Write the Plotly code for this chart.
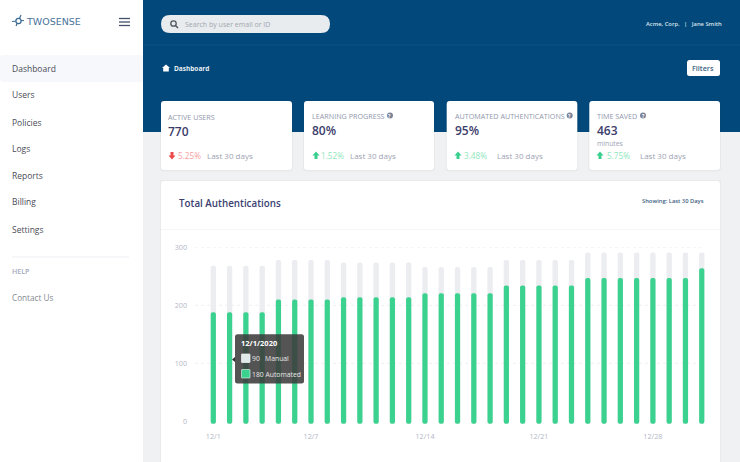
"""Two Sense dashboard mock: Total Authentications bars plus the page around them"""
import plotly.graph_objects as go

W, H = 740, 462

# Chart data
days = [f"12/{d}" for d in range(1, 32)]
tick_days = ["12/1", "12/7", "12/14", "12/21", "12/28"]
y_ticks = [0, 100, 200, 300]
grid_values = [100, 200, 300]
total = [268] * 4 + [278] * 4 + [274] * 5 + [266] * 5 + [278] * 5 + [291] * 8
automated = [188] * 4 + [210] * 4 + [214] * 5 + [221] * 5 + [234] * 5 + [247] * 7 + [264]
bar_base = -4

# Page text
nav_items = ["Dashboard", "Users", "Policies", "Logs", "Reports", "Billing", "Settings"]
nav_y = [68.5, 95, 122, 148.5, 175, 202, 229]

BLUE = "#02487a"
GREEN = "#3bd18f"
GREY_BAR = "#ecedf1"
NAVY = "#3b3d6b"
MUTED = "#9298ad"
FONT = "Open Sans"


def px(x):
    return x / W


def py(y):
    return 1 - y / H


def rrect_path(x0, y0, x1, y1, r):
    # rounded rectangle in paper coords, input in pixels
    pts = [
        f"M{px(x0 + r)},{py(y0)}", f"L{px(x1 - r)},{py(y0)}", f"Q{px(x1)},{py(y0)} {px(x1)},{py(y0 + r)}",
        f"L{px(x1)},{py(y1 - r)}", f"Q{px(x1)},{py(y1)} {px(x1 - r)},{py(y1)}",
        f"L{px(x0 + r)},{py(y1)}", f"Q{px(x0)},{py(y1)} {px(x0)},{py(y1 - r)}",
        f"L{px(x0)},{py(y0 + r)}", f"Q{px(x0)},{py(y0)} {px(x0 + r)},{py(y0)}", "Z",
    ]
    return " ".join(pts)


def poly_path(points):
    return "M" + " L".join(f"{px(x)},{py(y)}" for x, y in points) + " Z"


shapes = []
annotations = []


def box(x0, y0, x1, y1, color, r=0, layer="below", line=None, line_w=0):
    shapes.append(dict(type="path", path=rrect_path(x0, y0, x1, y1, r), xref="paper", yref="paper",
                       fillcolor=color, line=dict(color=line or color, width=line_w), layer=layer))


def rule(x0, y0, x1, y1, color, width=1, layer="below"):
    shapes.append(dict(type="line", x0=px(x0), y0=py(y0), x1=px(x1), y1=py(y1), xref="paper", yref="paper",
                       line=dict(color=color, width=width), layer=layer))


def poly(points, color, layer="below"):
    shapes.append(dict(type="path", path=poly_path(points), xref="paper", yref="paper",
                       fillcolor=color, line=dict(width=0), layer=layer))


def dot(cx, cy, r, fill, line=None, width=0, layer="below"):
    shapes.append(dict(type="circle", x0=px(cx - r), x1=px(cx + r), y0=py(cy + r), y1=py(cy - r),
                       xref="paper", yref="paper", fillcolor=fill,
                       line=dict(color=line or fill, width=width), layer=layer))


def label(x, y, text, size, color, weight=400, anchor="left", family=FONT):
    # annotation boxes sit about a pixel inside the anchor
    nudge = {"left": -1.2, "center": 0, "right": 1}[anchor]
    annotations.append(dict(x=px(x + nudge), y=py(y), xref="paper", yref="paper", text=text, showarrow=False,
                            xanchor=anchor, yanchor="middle", borderpad=0,
                            font=dict(family=family, size=size, color=color, weight=weight)))


# Sidebar and header
box(0, 0, 143, H, "#ffffff")
box(143, 0, W, 132, BLUE)
rule(143, 45, W, 45, "#0b5285")
box(0, 55, 143, 82, "#f6f8fb", r=3)

# Logo
rule(12, 21.5, 24, 20.5, "#3b6a92", 1.2)
rule(16, 26, 21, 15, "#3b6a92", 1.2)
dot(18.5, 21, 2.6, "#ffffff", "#3b6a92", 1.2)
label(26, 21.5, "TWOSENSE", 9.5, "#47739a", family="DejaVu Sans")

# Hamburger
for y in (18.5, 22, 25.5):
    rule(119, y, 130, y, "#45506b", 1.3)

for name, y in zip(nav_items, nav_y):
    label(12, y, name, 8.5, "#4b4c57")
rule(12, 257, 129, 257, "#eeeff2")
label(12, 271.5, "HELP", 7, "#a3a9ba", weight=600)
label(12, 297, "Contact Us", 8.2, "#85888f")

# Search pill
box(161, 15, 330, 33, "#e9ecef", r=9)
dot(173.5, 23.5, 2.7, "rgba(0,0,0,0)", "#4e5660", 1.3)
rule(175.5, 25.5, 178, 28, "#4e5660", 1.5)
label(185, 24, "Search by user email or ID", 7, "#a0a5ae")

label(722, 24, "Acme, Corp.  &nbsp;|&nbsp;  Jane Smith", 5.8, "#dbe4ec", weight=600, anchor="right")

# Breadcrumb
poly([(162, 68), (166, 64.5), (170, 68), (168.8, 68), (168.8, 71.5), (163.2, 71.5), (163.2, 68)], "#ffffff")
label(174, 68, "Dashboard", 6.5, "#e8eef3", weight=700)
box(687, 60, 720, 76, "#ffffff", r=2.5)
label(703, 68, "Filters", 7.2, "#3e5f83", weight=600, anchor="center")

# KPI cards: x0, x1, title, title x, title y, value, delta, delta colour, arrow x, delta x, last x
cards = [
    (161, 292, "ACTIVE USERS", 168, 117, "770", "5.25%", "#f9a0a0", 172, 178, 207),
    (304, 434, "LEARNING PROGRESS", 312, 115.5, "80%", "1.52%", "#8fe6bd", 316, 321, 350),
    (446.7, 577.3, "AUTOMATED AUTHENTICATIONS", 455.5, 115.5, "95%", "3.48%", "#8fe6bd", 458, 463.7, 496.7),
    (589.3, 720, "TIME SAVED", 597, 115.5, "463", "5.75%", "#8fe6bd", 600, 606.7, 639.7),
]
for x0, x1, title, tx, ty, value, delta, dcol, ax, dx, lx in cards:
    box(x0 - 1, 100, x1 + 1, 171.5, "rgba(60,70,90,0.05)", r=4)
    box(x0, 101, x1, 170, "#ffffff", r=3)
    label(tx, ty, title, 7.2, MUTED)
    label(tx, ty + 14.5, value, 12, NAVY, weight=600)
    label(dx, 155.5, delta, 8.2, dcol)
    label(lx, 155.5, "Last 30 days", 8, "#a0a3b3")
    if delta == "5.25%":
        poly([(ax - 1.5, 152), (ax + 1.5, 152), (ax + 1.5, 155.5), (ax + 3.5, 155.5), (ax, 159.5), (ax - 3.5, 155.5), (ax - 1.5, 155.5)], "#ef4a4a")
    else:
        poly([(ax - 1.5, 159), (ax + 1.5, 159), (ax + 1.5, 155.5), (ax + 3.5, 155.5), (ax, 151.5), (ax - 3.5, 155.5), (ax - 1.5, 155.5)], "#37cf8d")
label(597, 143, "minutes", 6.8, "#a0a3b3")

# Help badges
for cx in (390, 569.7, 643):
    dot(cx, 115.5, 3, "#7b8499")
    label(cx, 115.5, "?", 5, "#ffffff", weight=700, anchor="center")

# Chart card, running off the bottom of the page
box(160, 180, 721, H, "rgba(60,70,90,0.04)")
box(161, 181, 720, 200, "#ffffff", r=3)
box(161, 190, 720, H, "#ffffff")
rule(161, 229.7, 720, 229.7, "#f3f4f6")
label(178.7, 203, "Total Authentications", 9.8, "#3c3f70", weight=600)
label(704, 201, "Showing: Last 30 Days", 5.8, "#3e5f83", weight=600, anchor="right")

# Tooltip drawn on top of the bars
tip = "rgba(60,60,60,0.88)"
box(235, 334.3, 304, 383.5, tip, r=2.5, layer="above")
poly([(232, 359.5), (235, 357), (235, 362)], "#333333", layer="above")
box(241.5, 354, 250, 362.5, "#dfe9e8", r=0.5, layer="above", line="#f5f5f5", line_w=0.7)
box(241.5, 369.5, 250, 378, GREEN, r=0.5, layer="above", line="#d5e8df", line_w=0.7)
label(241.5, 343, "12/1/2020", 7.5, "#ffffff", weight=700)
label(252, 358.5, "90 &nbsp; Manual", 6.8, "#e8e8e8")
label(252, 374, "180 Automated", 6.8, "#e8e8e8")

fig = go.Figure()
fig.add_trace(go.Bar(x=days, y=[v - bar_base for v in total], base=bar_base, name="Manual",
                     marker=dict(color=GREY_BAR, line_width=0), width=0.33))
fig.add_trace(go.Bar(x=days, y=[v - bar_base for v in automated], base=bar_base, name="Automated",
                     marker=dict(color=GREEN, line_width=0), width=0.32))

for v in grid_values:
    shapes.append(dict(type="line", xref="x domain", yref="y", x0=0, x1=1, y0=v, y1=v,
                       line=dict(color="#eeeff2", width=1, dash="dot"), layer="below"))

fig.update_layout(
    width=W,
    height=H,
    autosize=False,
    margin=dict(l=0, r=0, t=0, b=0, autoexpand=False),
    paper_bgcolor="#f0f1f2",
    plot_bgcolor="rgba(0,0,0,0)",
    barmode="overlay",
    barcornerradius=3,
    showlegend=False,
    font=dict(family=FONT),
    shapes=shapes,
    annotations=annotations,
    xaxis=dict(
        domain=[px(195), px(705)],
        type="category",
        categoryorder="array",
        categoryarray=days,
        range=[-1.125, 30.2],
        tickmode="array",
        tickvals=tick_days,
        ticktext=tick_days,
        showgrid=False,
        zeroline=False,
        showline=False,
        ticks="",
        ticklabelstandoff=6,
        tickangle=0,
        tickfont=dict(size=7.2, color="#b3b7c6"),
    ),
    yaxis=dict(
        domain=[py(424.8), py(247.3)],
        range=[-6, 300],
        tickmode="array",
        tickvals=y_ticks,
        showgrid=False,
        zeroline=False,
        showline=False,
        ticks="",
        ticklabelstandoff=7,
        tickfont=dict(size=7.2, color="#b3b7c6"),
    ),
)

fig.write_html("out.html", config={"displayModeBar": False},
               post_script="document.body.style.margin='0';document.body.style.overflow='hidden';")
